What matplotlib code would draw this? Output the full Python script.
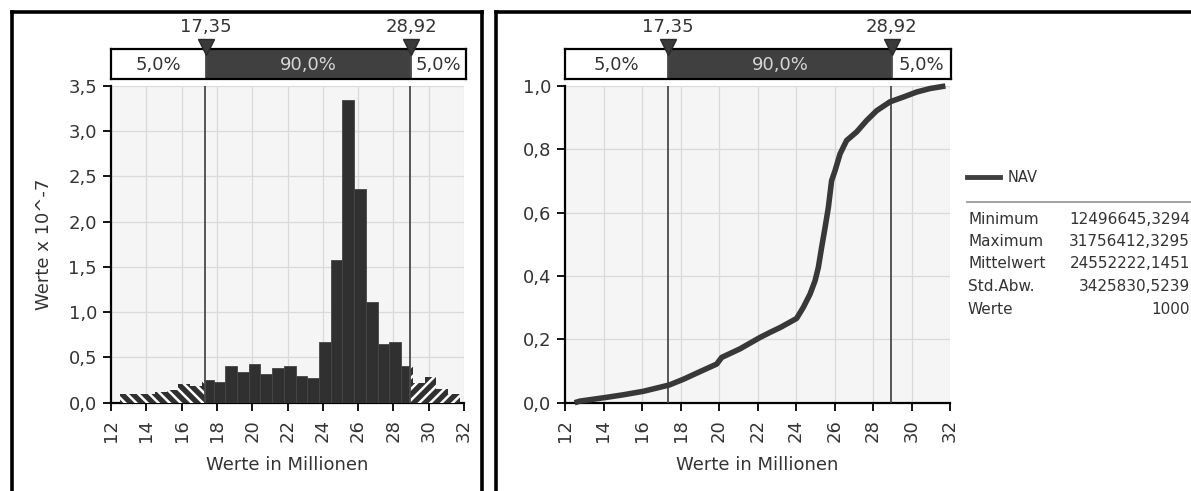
import numpy as np
import matplotlib
matplotlib.use("Agg")
import matplotlib.pyplot as plt

# ---------------- data ----------------
hist_min = 12.4966453294          # Millionen
hist_max = 31.7564123295
hist_heights = [0.095, 0.095, 0.095, 0.117, 0.139, 0.21, 0.187,
                0.256, 0.23, 0.41, 0.34, 0.43, 0.32, 0.385, 0.41, 0.30, 0.275,
                0.675, 1.58, 3.34, 2.36, 1.11, 0.65, 0.67, 0.41,
                0.22, 0.28, 0.15, 0.10]

cdf_x = [12.50, 12.78, 14.17, 15.03, 16.07, 17.42, 18.15, 19.01, 19.88, 20.14,
         21.09, 21.61, 22.13, 22.65, 23.20, 24.03, 24.38, 24.73, 24.99, 25.16,
         25.33, 25.51, 25.68, 25.85, 26.03, 26.29, 26.63, 27.15, 27.67, 28.19,
         28.88, 29.57, 30.27, 30.96, 31.76]
cdf_y = [0.000, 0.005, 0.017, 0.025, 0.036, 0.056, 0.074, 0.098, 0.122, 0.143,
         0.170, 0.188, 0.206, 0.222, 0.238, 0.266, 0.301, 0.343, 0.385, 0.427,
         0.490, 0.553, 0.616, 0.701, 0.733, 0.786, 0.828, 0.855, 0.891, 0.922,
         0.950, 0.965, 0.981, 0.992, 1.000]

pct_lo, pct_hi = 17.35, 28.92
pct_labels = ["17,35", "28,92"]
band_labels = ["5,0%", "90,0%", "5,0%"]

x_ticks = list(range(12, 33, 2))
x_tick_labels = [str(v) for v in x_ticks]
hist_yticks = [0.0, 0.5, 1.0, 1.5, 2.0, 2.5, 3.0, 3.5]
hist_ytick_labels = ["0,0", "0,5", "1,0", "1,5", "2,0", "2,5", "3,0", "3,5"]
cdf_yticks = [0.0, 0.2, 0.4, 0.6, 0.8, 1.0]
cdf_ytick_labels = ["0,0", "0,2", "0,4", "0,6", "0,8", "1,0"]

series_name = "NAV"
stats_names = ["Minimum", "Maximum", "Mittelwert", "Std.Abw.", "Werte"]
stats_values = ["12496645,3294", "31756412,3295", "24552222,1451", "3425830,5239", "1000"]

xlabel = "Werte in Millionen"
hist_ylabel = "Werte x 10^-7"

# ---------------- style ----------------
W, H = 1191, 491
plt.rcParams["font.family"] = ["DejaVu Sans"]
plt.rcParams["hatch.linewidth"] = 1.8
TXT = "#333333"
DARK = "#303030"
FS = 13

fig = plt.figure(figsize=(W / 100, H / 100), dpi=100)
fig.patch.set_facecolor("white")


def frac_rect(x0, y0, x1, y1):
    return [x0 / W, 1 - y1 / H, (x1 - x0) / W, (y1 - y0) / H]


def style_main(ax):
    ax.set_facecolor("#f5f5f5")
    ax.set_xlim(12, 32)
    ax.set_xticks(x_ticks)
    ax.set_xticklabels(x_tick_labels, rotation=90)
    ax.grid(True, color="#d9d9d9", lw=0.9)
    ax.set_axisbelow(True)
    for s in ("top", "right"):
        ax.spines[s].set_visible(False)
    for s in ("left", "bottom"):
        ax.spines[s].set_linewidth(1.6)
        ax.spines[s].set_color("black")
    ax.tick_params(direction="out", length=6, width=1.3, colors="black",
                   labelcolor=TXT, labelsize=FS, pad=4)
    ax.tick_params(axis="x", pad=6)
    ax.set_xlabel(xlabel, fontsize=FS, color=TXT, va="center")
    ax.xaxis.set_label_coords(0.5, -0.197)
    ax.axvline(pct_lo, color="#4a4a4a", lw=1.3, zorder=4)
    ax.axvline(pct_hi, color="#4a4a4a", lw=1.3, zorder=4)


def band_axes(rect):
    bx = fig.add_axes(rect)
    bx.set_xlim(12, 32)
    bx.set_ylim(0, 1)
    bx.set_xticks([])
    bx.set_yticks([])
    for s in bx.spines.values():
        s.set_linewidth(1.6)
        s.set_color("black")
    bx.axvspan(12, pct_lo, color="white")
    bx.axvspan(pct_lo, pct_hi, color="#404040")
    bx.axvspan(pct_hi, 32, color="white")
    bx.axvline(pct_lo, color="#4a4a4a", lw=1.3)
    bx.axvline(pct_hi, color="#4a4a4a", lw=1.3)
    centers = [(12 + pct_lo) / 2, (pct_lo + pct_hi) / 2, (pct_hi + 32) / 2]
    colors = [TXT, "#d6d6d6", TXT]
    for c, lab, col in zip(centers, band_labels, colors):
        bx.text(c, 0.47, lab, ha="center", va="center", fontsize=FS, color=col)
    bx.plot([pct_lo, pct_hi], [1.08, 1.08], ls="none", marker="v", ms=11,
            color="#3a3a3a", mec="#2a2a2a", clip_on=False, zorder=6)
    for xv, lab in zip([pct_lo, pct_hi], pct_labels):
        bx.text(xv, 1.72, lab, ha="center", va="center", fontsize=FS,
                color=TXT, clip_on=False)
    return bx


# ---------------- left: histogram ----------------
ax1 = fig.add_axes(frac_rect(111, 86, 464, 402.7))
style_main(ax1)
ax1.set_ylim(0, 3.5)
ax1.set_yticks(hist_yticks)
ax1.set_yticklabels(hist_ytick_labels)
ax1.set_ylabel(hist_ylabel, fontsize=FS, color=TXT, va="center")
ax1.yaxis.set_label_coords(-0.19, 0.5)

edges = np.linspace(hist_min, hist_max, len(hist_heights) + 1)
regions = [(12, pct_lo, "left"), (pct_lo, pct_hi, "mid"), (pct_hi, 32, "right")]
for i, h in enumerate(hist_heights):
    a, b = edges[i], edges[i + 1]
    for lo, hi, kind in regions:
        s, e = max(a, lo), min(b, hi)
        if e <= s:
            continue
        if kind == "mid":
            ax1.bar(s, h, width=e - s, align="edge", color=DARK,
                    edgecolor="#454545", lw=0.6, zorder=3)
        else:
            ax1.bar(s, h, width=e - s, align="edge", color=DARK,
                    edgecolor="white", lw=0,
                    hatch="\\\\\\" if kind == "left" else "///", zorder=3)

band_axes(frac_rect(111, 49, 466, 79))

# ---------------- right: cumulative ----------------
ax2 = fig.add_axes(frac_rect(565, 86, 950, 402.7))
style_main(ax2)
ax2.set_ylim(0, 1.0)
ax2.set_yticks(cdf_yticks)
ax2.set_yticklabels(cdf_ytick_labels)
ax2.plot(cdf_x, cdf_y, color="#383838", lw=4, solid_capstyle="butt", zorder=5,
         clip_on=False)

band_axes(frac_rect(565, 49, 951, 79))

# ---------------- overlay: frames, legend, statistics ----------------
ov = fig.add_axes([0, 0, 1, 1], facecolor="none", zorder=10)
ov.set_xlim(0, W)
ov.set_ylim(H, 0)
ov.axis("off")
fk = dict(color="black", lw=2.6, solid_capstyle="projecting")
ov.plot([11.5, 481.5], [11.5, 11.5], **fk)
ov.plot([11.5, 11.5], [11.5, H + 5], **fk)
ov.plot([481.5, 481.5], [11.5, H + 5], **fk)
ov.plot([495.5, W + 5], [11.5, 11.5], **fk)
ov.plot([495.5, 495.5], [11.5, H + 5], **fk)

ov.plot([967, 1000], [177, 177], color="#404040", lw=3.5)
ov.text(1008, 177, series_name, va="center", ha="left", fontsize=10.5, color=TXT)
ov.plot([967, W + 5], [201.5, 201.5], color="#9a9a9a", lw=1.3)
for i, (n, v) in enumerate(zip(stats_names, stats_values)):
    y = 219 + i * 22.5
    ov.text(968, y, n, va="center", ha="left", fontsize=11, color=TXT)
    ov.text(1190, y, v, va="center", ha="right", fontsize=11, color=TXT)

fig.savefig("out.png", dpi=100)
